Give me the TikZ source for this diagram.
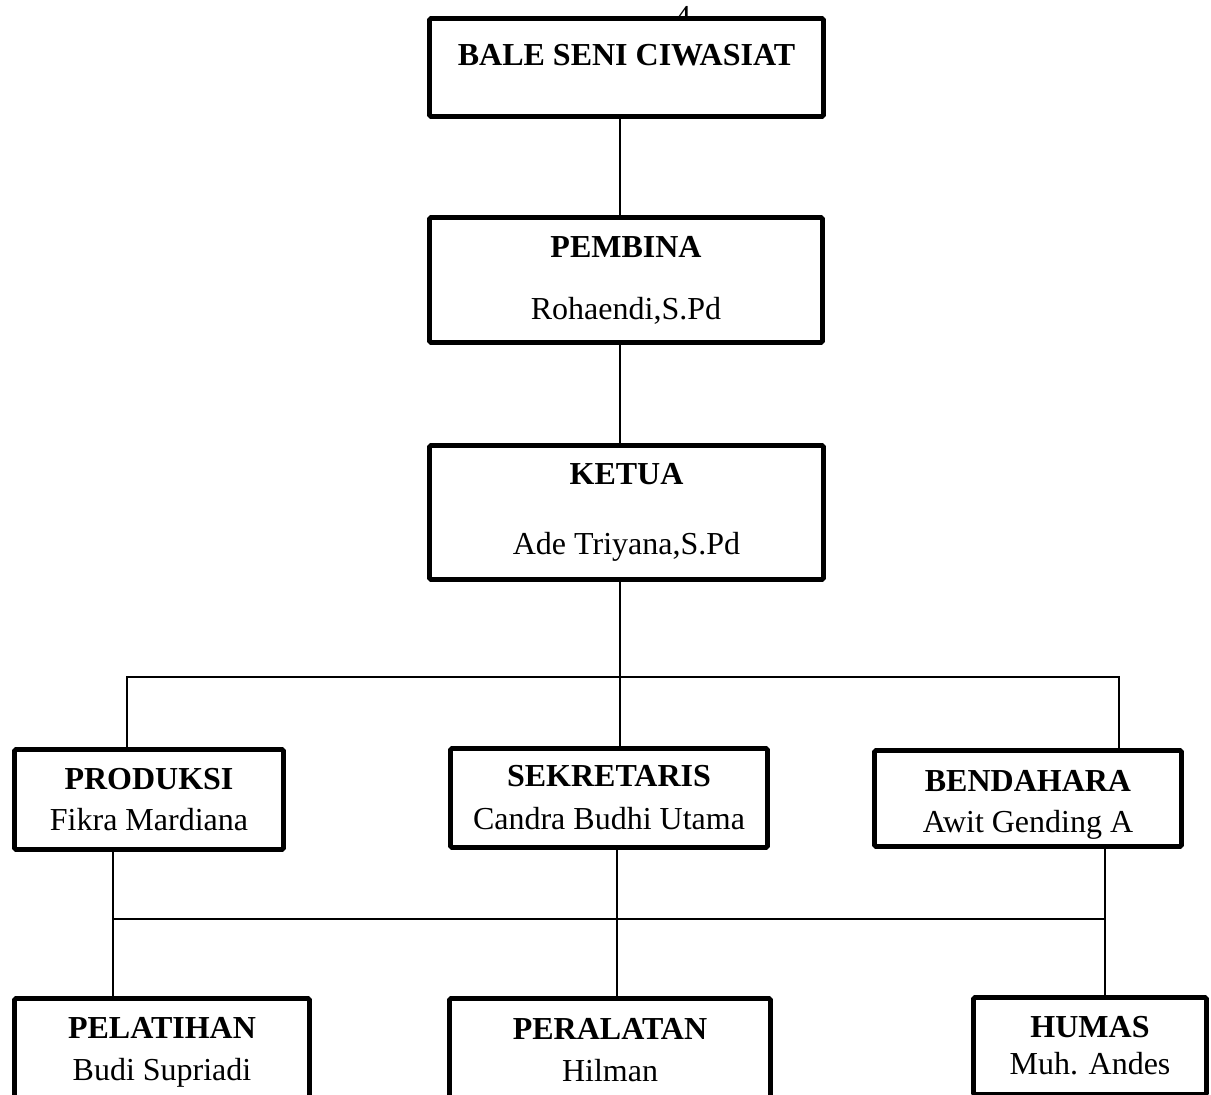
\documentclass[tikz,border=0pt]{standalone}
\usepackage{fontspec}
\setmainfont{Liberation Serif}

\begin{document}
\begin{tikzpicture}[x=0.5pt, y=-0.5pt,
    unit/.style = {rectangle, draw, fill=white, line width=2.4pt, rounded corners=0.8pt,
                   align=center, inner sep=0pt},
    link/.style = {line width=1.1pt},
    font=\fontsize{16pt}{19pt}\selectfont]
  \useasboundingbox (0, 0) rectangle (1211, 1095);
  \clip (0, 0) rectangle (1211, 1095);

  % Page number, mostly hidden.
  \node at (683, 17) [name=pagenum, inner sep=0pt] {4};

  % Top units.
  \node at (626.5, 67.5) [unit, name=bale, minimum width=197pt, minimum height=49pt, text depth=13pt]
        {\textbf{BALE SENI CIWASIAT}};
  \node at (626, 280) [unit, name=pembina, minimum width=196.5pt, minimum height=62.5pt]
        {\textbf{PEMBINA}\\[12pt] Rohaendi,S.Pd};
  \node at (626.5, 512.5) [unit, name=ketua, minimum width=197pt, minimum height=67pt]
        {\textbf{KETUA}\\[16pt] Ade Triyana,S.Pd};

  % Middle units.
  \node at (149, 799.5) [unit, name=produksi, minimum width=134.5pt, minimum height=50pt]
        {\textbf{PRODUKSI}\\[1.5pt] Fikra Mardiana};
  \node at (609, 798) [unit, name=sekretaris, minimum width=158.5pt, minimum height=49.5pt]
        {\textbf{SEKRETARIS}\\[2.5pt] Candra Budhi Utama};
  \node at (1028, 798.5) [unit, name=bendahara, minimum width=153.5pt, minimum height=48pt]
        {\rule{0pt}{13.5pt}\textbf{BENDAHARA}\\[1.5pt] Awit Gendin\smash{g} A};

  % Bottom units.
  \node at (162, 1052) [unit, name=pelatihan, minimum width=147.5pt, minimum height=53.5pt]
        {\textbf{PELATIHAN}\\[2pt] Budi Supriadi};
  \node at (610, 1050.5) [unit, name=peralatan, minimum width=160.5pt, minimum height=52pt]
        {\textbf{PERALATAN}\\[2pt] Hilman};
  \node at (1090, 1046) [unit, name=humas, minimum width=116.5pt, minimum height=48.5pt]
        {\textbf{HUMAS}\\[-0.5pt] Muh. Andes};

  % Bus lines.
  \coordinate (trunk) at (620, 677);
  \coordinate (busA) at (127, 677);
  \coordinate (busB) at (1119, 677);
  \coordinate (busC) at (113, 919);
  \coordinate (busD) at (1105, 919);
  \coordinate (busE) at (617, 919);

  \draw [link] (trunk |- bale.south) -- (trunk |- pembina.north);
  \draw [link] (trunk |- pembina.south) -- (trunk |- ketua.north);
  \draw [link] (trunk |- ketua.south) -- (trunk |- sekretaris.north);
  \draw [link] (busA |- produksi.north) -- (busA) -- (busB) -- (busB |- bendahara.north);

  \draw [link] (busC |- produksi.south) -- (busC |- pelatihan.north);
  \draw [link] (busE |- sekretaris.south) -- (busE |- peralatan.north);
  \draw [link] (busD |- bendahara.south) -- (busD |- humas.north);
  \draw [link] (busC) -- (busD);
\end{tikzpicture}
\end{document}
